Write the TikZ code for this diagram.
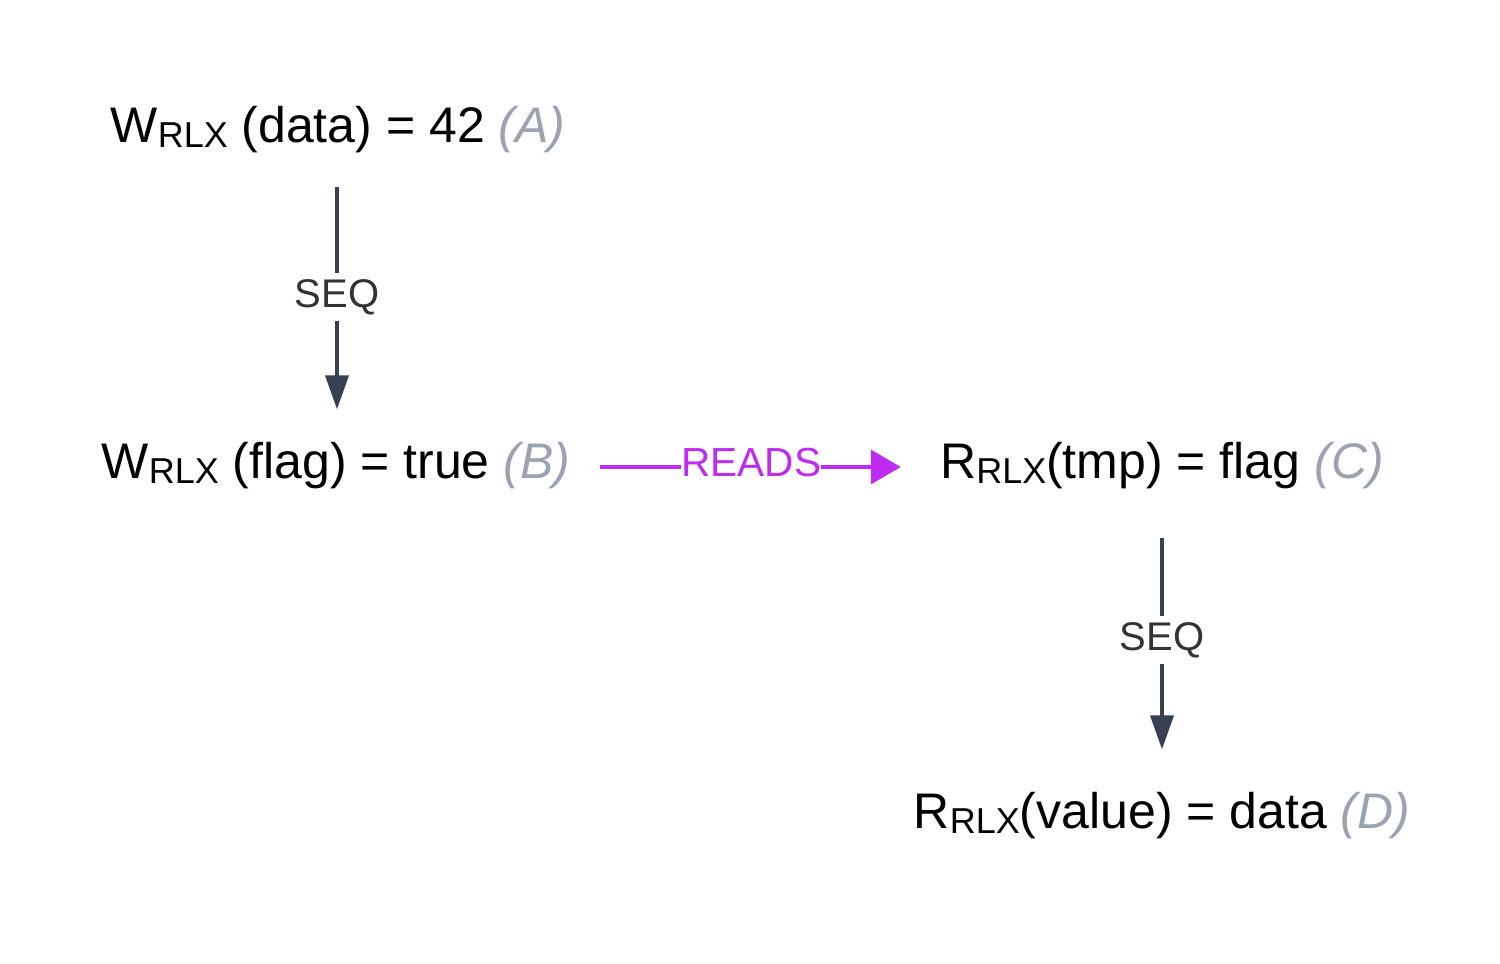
\documentclass[tikz,border=0pt]{standalone}
\usepackage{fontspec}
\setmainfont{Liberation Sans}
\usetikzlibrary{arrows.meta}
\definecolor{arrowgray}{HTML}{374151}
\definecolor{labelgray}{HTML}{333333}
\definecolor{tagcolor}{HTML}{9CA3AF}
\definecolor{readscolor}{HTML}{BF2BF0}
\newcommand{\rlx}{\raisebox{-2.5pt}{\fontsize{18}{20}\selectfont RLX}}
\newcommand{\tagx}[1]{\textcolor{tagcolor}{\itshape(#1)}}
\tikzset{
  event/.style={inner sep=0pt, font=\fontsize{25}{30}\selectfont, anchor=base},
  seqarrow/.style={draw=arrowgray, line width=1.9pt, -{Triangle[length=17pt,width=11.5pt]}},
  seqlabel/.style={fill=white, text=labelgray, font=\fontsize{20}{24}\selectfont, inner xsep=2pt, inner ysep=3pt},
  readsarrow/.style={draw=readscolor, line width=1.9pt, -{Triangle[length=15pt,width=17pt]}},
  readslabel/.style={fill=white, text=readscolor, font=\fontsize{20.3}{24}\selectfont, inner xsep=0pt, inner ysep=2pt},
}
\begin{document}
\begin{tikzpicture}[x=0.5pt,y=-0.5pt]
\useasboundingbox (0,0) rectangle (1500,964);
\node[event] (A) at (338,142) {W\rlx{} (data) = 42 \tagx{A}};
\node[event] (B) at (336,478) {W\rlx{} (flag) = true \tagx{B}};
\node[event] (C) at (1162,478) {R\rlx(tmp) = flag \tagx{C}};
\node[event] (D) at (1162,828) {R\rlx(value) = data \tagx{D}};
\draw[seqarrow, shorten <=17pt, shorten >=16pt] (A.south -| 337,0) -- node[seqlabel, pos=0.50] (s1) {SEQ} (B.north -| 337,0);
\draw[seqarrow, shorten <=24.5pt, shorten >=21pt] (C.south -| 1162,0) -- node[seqlabel, pos=0.50] (s2) {SEQ} (D.north -| 1162,0);
\draw[readsarrow, shorten <=14.5pt, shorten >=19.5pt] (B.east |- 0,467) -- node[readslabel, pos=0.5, yshift=2pt, xshift=-2pt] (r) {READS} (C.west |- 0,467);
\end{tikzpicture}
\end{document}
